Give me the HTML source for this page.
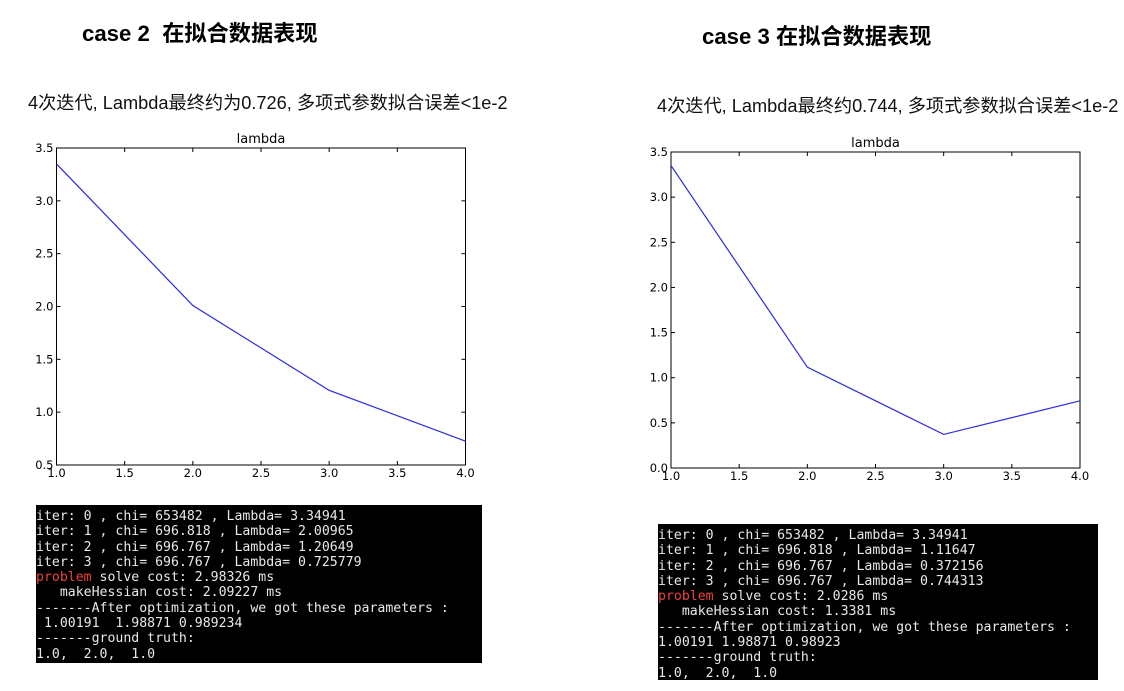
<!DOCTYPE html>
<html><head><meta charset="utf-8">
<style>
body{margin:0;width:1124px;height:691px;background:#fff;position:relative;overflow:hidden;font-family:"Liberation Sans","Noto Sans CJK SC",sans-serif}
.h{position:absolute;font-weight:bold;font-size:22.2px;color:#000;white-space:nowrap}
.s{position:absolute;font-size:18.2px;color:#111;white-space:nowrap}
.term{position:absolute;background:#000;color:#e8e8e8;font-family:"DejaVu Sans Mono","Liberation Mono",monospace;font-size:13.2px;line-height:15.3px;white-space:pre;overflow:hidden;padding-top:4px;box-sizing:border-box}
.r{color:#ef4040}
svg{position:absolute;left:0;top:0}
</style></head><body>
<div class="h" style="left:82px;top:16px">case 2&nbsp; 在拟合数据表现</div>
<div class="h" style="left:702px;top:19px">case 3 在拟合数据表现</div>
<div class="s" style="left:28px;top:89px">4次迭代, Lambda最终约为0.726, 多项式参数拟合误差&lt;1e-2</div>
<div class="s" style="left:657px;top:92px">4次迭代, Lambda最终约0.744, 多项式参数拟合误差&lt;1e-2</div>
<svg id="svg" width="1124" height="691"></svg>
<div class="term" style="left:36px;top:505px;width:446px;height:158px">iter: 0 , chi= 653482 , Lambda= 3.34941
iter: 1 , chi= 696.818 , Lambda= 2.00965
iter: 2 , chi= 696.767 , Lambda= 1.20649
iter: 3 , chi= 696.767 , Lambda= 0.725779
<span class="r">problem</span> solve cost: 2.98326 ms
   makeHessian cost: 2.09227 ms
-------After optimization, we got these parameters :
 1.00191  1.98871 0.989234
-------ground truth:
1.0,  2.0,  1.0</div>
<div class="term" style="left:658px;top:524px;width:440px;height:156px">iter: 0 , chi= 653482 , Lambda= 3.34941
iter: 1 , chi= 696.818 , Lambda= 1.11647
iter: 2 , chi= 696.767 , Lambda= 0.372156
iter: 3 , chi= 696.767 , Lambda= 0.744313
<span class="r">problem</span> solve cost: 2.0286 ms
   makeHessian cost: 1.3381 ms
-------After optimization, we got these parameters :
1.00191 1.98871 0.98923
-------ground truth:
1.0,  2.0,  1.0</div>
<script>
const iters=[1,2,3,4];
const lambda2=[3.34941,2.00965,1.20649,0.725779];
const lambda3=[3.34941,1.11647,0.372156,0.744313];
const xTicks=["1.0","1.5","2.0","2.5","3.0","3.5","4.0"];
const yTicks2=["0.5","1.0","1.5","2.0","2.5","3.0","3.5"];
const yTicks3=["0.0","0.5","1.0","1.5","2.0","2.5","3.0","3.5"];
const NS="http://www.w3.org/2000/svg";
const svg=document.getElementById('svg');
function mk(t,a){const e=document.createElementNS(NS,t);for(const k in a)e.setAttribute(k,a[k]);svg.appendChild(e);return e;}
function chart(id,L,R,T,B,xmin,xmax,ymin,ymax,yT,vals){
  const sx=v=>L+(v-xmin)/(xmax-xmin)*(R-L);
  const sy=v=>B-(v-ymin)/(ymax-ymin)*(B-T);
  const f=mk('rect',{x:L,y:T,width:R-L,height:B-T,fill:'#fff',stroke:'#000','stroke-width':1});
  
  
  const tt=mk('text',{x:(L+R)/2,y:T-5,'text-anchor':'middle','font-size':13,'font-family':'DejaVu Sans, Liberation Sans, sans-serif'});
  tt.textContent='lambda';
  
  
  xTicks.forEach(s=>{const x=sx(parseFloat(s));
    mk('line',{x1:x,x2:x,y1:B,y2:B-4,stroke:'#000'});mk('line',{x1:x,x2:x,y1:T,y2:T+4,stroke:'#000'});
    const t=mk('text',{x:x,y:B+12,'text-anchor':'middle','font-size':11.5,'font-family':'DejaVu Sans, Liberation Sans, sans-serif'});t.textContent=s;
    
    });
  yT.forEach(s=>{const y=sy(parseFloat(s));
    mk('line',{x1:L,x2:L+4,y1:y,y2:y,stroke:'#000'});mk('line',{x1:R,x2:R-4,y1:y,y2:y,stroke:'#000'});
    const t=mk('text',{x:L-3,y:y+4,'text-anchor':'end','font-size':11.5,'font-family':'DejaVu Sans, Liberation Sans, sans-serif'});t.textContent=s;
    
    });
  const p=mk('polyline',{points:vals.map((v,i)=>sx(iters[i])+','+sy(v)).join(' '),fill:'none',stroke:'#2a2ae0','stroke-width':1.2});
  
  
}
chart('case2',56.5,465.5,148,465,1,4,0.5,3.5,yTicks2,lambda2);
chart('case3',671,1080,152,468,1,4,0,3.5,yTicks3,lambda3);
</script>
</body></html>
